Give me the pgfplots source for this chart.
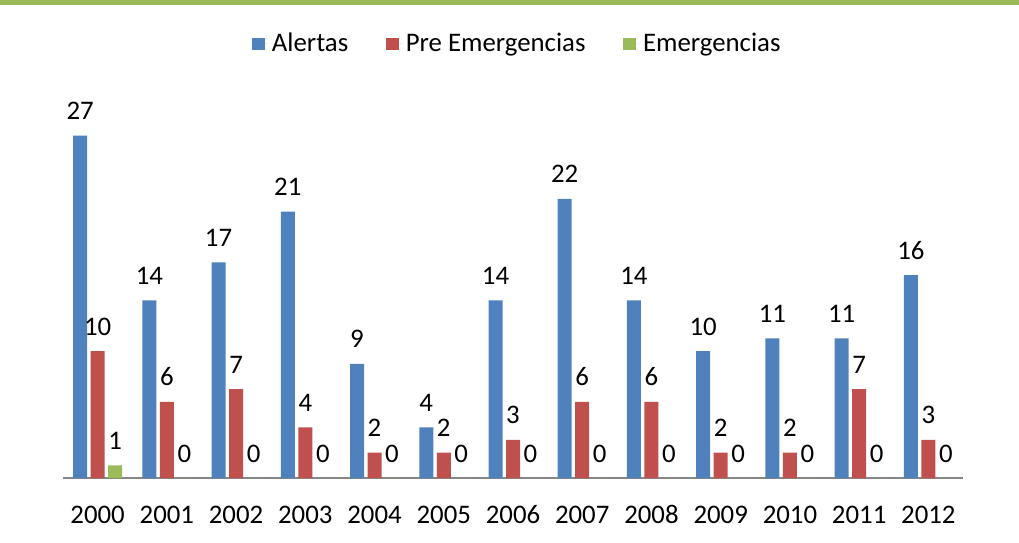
\documentclass[border=0pt]{standalone}
\usepackage{fontspec}
\setmainfont{Carlito}
\usepackage{pgfplots}
\pgfplotsset{compat=1.18}
\definecolor{xlblue}{HTML}{4F81BD}
\definecolor{xlred}{HTML}{C0504D}
\definecolor{xlgreen}{HTML}{9BBB59}
\definecolor{axisgray}{HTML}{868686}

\begin{document}
\begin{tikzpicture}[font=\fontsize{13.4}{16}\selectfont]
\useasboundingbox (-31.5pt,-32pt) rectangle (478pt,239pt);
% header rule
\fill[xlgreen] (-31.5pt,236.5pt) rectangle (478pt,239pt);
\begin{axis}[
    at={(0pt,0pt)}, anchor=south west,
    width=450pt, height=189pt, scale only axis,
    ybar=1.75pt, bar width=7pt,
    xmin=-0.5, xmax=12.5, ymin=0, ymax=29.8,
    axis x line*=bottom, axis y line=none,
    x axis line style={draw=axisgray, line width=1pt},
    xtick={0,...,12},
    xticklabels={2000,2001,2002,2003,2004,2005,2006,2007,2008,2009,2010,2011,2012},
    major tick length=0pt, ytick=\empty,
    xticklabel style={anchor=base, yshift=-22.5pt},
    /pgf/number format/assume math mode=true,
    nodes near coords,
    every node near coord/.append style={anchor=base, yshift=8pt, text=black},
    clip=false,
    legend style={at={(0.506,1)}, anchor=center, yshift=28pt, draw=none,
        /tikz/every even column/.append style={column sep=17pt}},
    legend columns=-1,
    legend image code/.code={\fill[#1] (0pt,-3.2pt) rectangle (6.4pt,3.2pt); \path (0pt,0pt) -- (7.8pt,0pt);},
]
\addplot[fill=xlblue, draw=none] coordinates {
    (0,27) (1,14) (2,17) (3,21) (4,9) (5,4) (6,14) (7,22) (8,14) (9,10) (10,11) (11,11) (12,16)
};
\addplot[fill=xlred, draw=none] coordinates {
    (0,10) (1,6) (2,7) (3,4) (4,2) (5,2) (6,3) (7,6) (8,6) (9,2) (10,2) (11,7) (12,3)
};
\addplot[fill=xlgreen, draw=none] coordinates {
    (0,1) (1,0) (2,0) (3,0) (4,0) (5,0) (6,0) (7,0) (8,0) (9,0) (10,0) (11,0) (12,0)
};
\legend{Alertas, Pre Emergencias, Emergencias}
\end{axis}
\end{tikzpicture}
\end{document}
